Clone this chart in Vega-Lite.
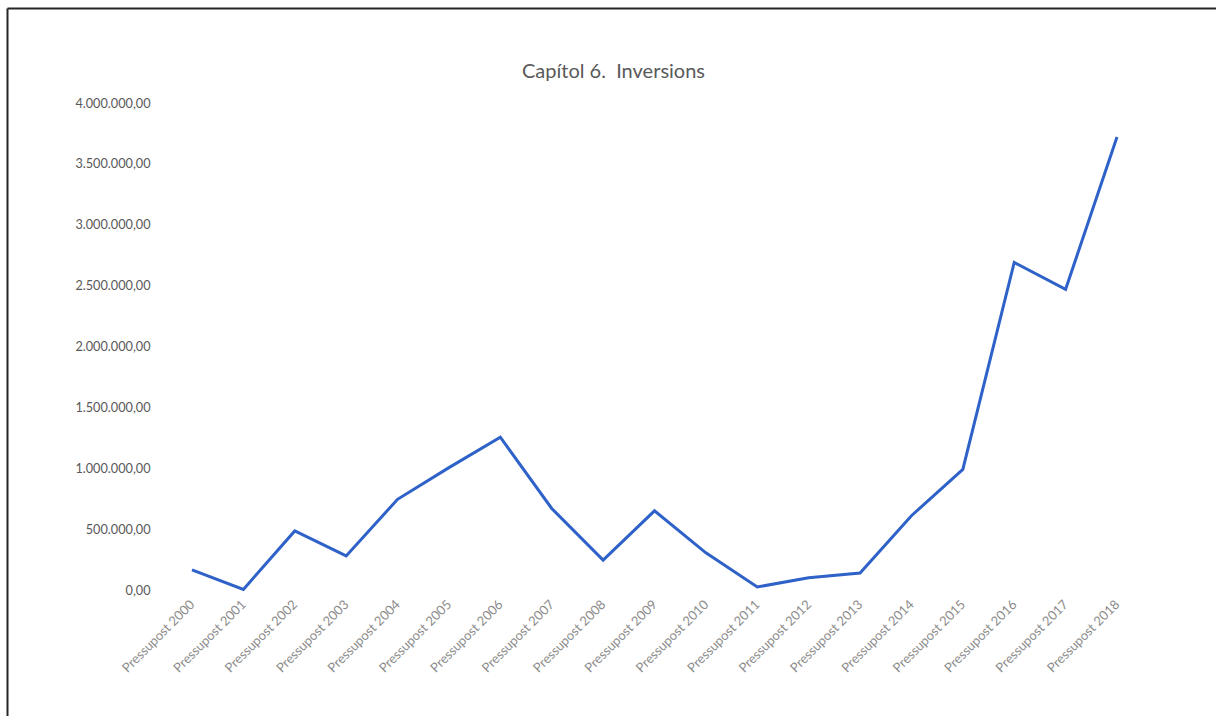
{
  "$schema": "https://vega.github.io/schema/vega-lite/v6.json",
  "autosize": "none",
  "padding": {"left": 7, "top": 8, "right": 0, "bottom": 0},
  "width": 1212,
  "height": 711,
  "title": {
    "text": "Capítol 6.\u00a0 Inversions",
    "anchor": "start",
    "offset": -84,
    "dx": 515,
    "baseline": "middle",
    "font": "Lato",
    "fontSize": 20,
    "fontWeight": "normal",
    "color": "#595959"
  },
  "data": {
    "values": [
      {"pressupost": "Pressupost 2000", "valor": 165000},
      {"pressupost": "Pressupost 2001", "valor": 5000},
      {"pressupost": "Pressupost 2002", "valor": 485000},
      {"pressupost": "Pressupost 2003", "valor": 280000},
      {"pressupost": "Pressupost 2004", "valor": 745000},
      {"pressupost": "Pressupost 2005", "valor": 1005000},
      {"pressupost": "Pressupost 2006", "valor": 1255000},
      {"pressupost": "Pressupost 2007", "valor": 670000},
      {"pressupost": "Pressupost 2008", "valor": 245000},
      {"pressupost": "Pressupost 2009", "valor": 650000},
      {"pressupost": "Pressupost 2010", "valor": 305000},
      {"pressupost": "Pressupost 2011", "valor": 25000},
      {"pressupost": "Pressupost 2012", "valor": 100000},
      {"pressupost": "Pressupost 2013", "valor": 140000},
      {"pressupost": "Pressupost 2014", "valor": 610000},
      {"pressupost": "Pressupost 2015", "valor": 990000},
      {"pressupost": "Pressupost 2016", "valor": 2690000},
      {"pressupost": "Pressupost 2017", "valor": 2470000},
      {"pressupost": "Pressupost 2018", "valor": 3720000}
    ]
  },
  "layer": [
    {
      "mark": {"type": "line", "strokeOpacity": 0},
      "encoding": {
        "x": {
          "field": "valor",
          "type": "quantitative",
          "axis": {
            "title": null,
            "orient": "top",
            "offset": 0,
            "ticks": false,
            "labels": false,
            "grid": false,
            "domain": true,
            "domainColor": "#262626",
            "domainWidth": 2
          }
        },
        "y": {
          "field": "valor",
          "type": "quantitative",
          "scale": {"domain": [-1059500, 4780300], "nice": false, "zero": false},
          "axis": {
            "title": null,
            "orient": "left",
            "offset": 0,
            "ticks": false,
            "labels": false,
            "grid": false,
            "domain": true,
            "domainColor": "#262626",
            "domainWidth": 2
          }
        }
      }
    },
    {
      "mark": {"type": "line", "color": "#2f62c8", "strokeWidth": 3, "strokeJoin": "miter"},
      "encoding": {
        "x": {
          "field": "pressupost",
          "type": "ordinal",
          "scale": {"type": "point", "range": [185, 1110], "padding": 0},
          "axis": {
            "title": null,
            "orient": "bottom",
            "offset": -123,
            "ticks": false,
            "domain": false,
            "grid": false,
            "labelAngle": -45,
            "labelAlign": "right",
            "labelBaseline": "middle",
            "labelPadding": 6,
            "labelFont": "Lato",
            "labelFontSize": 13,
            "labelColor": "#8c8c8c",
            "labelOverlap": false
          }
        },
        "y": {
          "field": "valor",
          "type": "quantitative",
          "axis": {
            "title": null,
            "orient": "left",
            "values": [0, 500000, 1000000, 1500000, 2000000, 2500000, 3000000, 3500000, 4000000],
            "format": ",.2f",
            "offset": -145,
            "ticks": false,
            "domain": false,
            "grid": false,
            "labelPadding": 2,
            "labelFont": "Lato",
            "labelFontSize": 12.7,
            "labelColor": "#595959"
          }
        }
      }
    }
  ],
  "resolve": {"scale": {"x": "independent"}, "axis": {"x": "independent", "y": "independent"}},
  "config": {
    "locale": {
      "number": {"decimal": ",", "thousands": ".", "grouping": [3], "currency": ["", " €"]}
    },
    "view": {"stroke": null}
  }
}
